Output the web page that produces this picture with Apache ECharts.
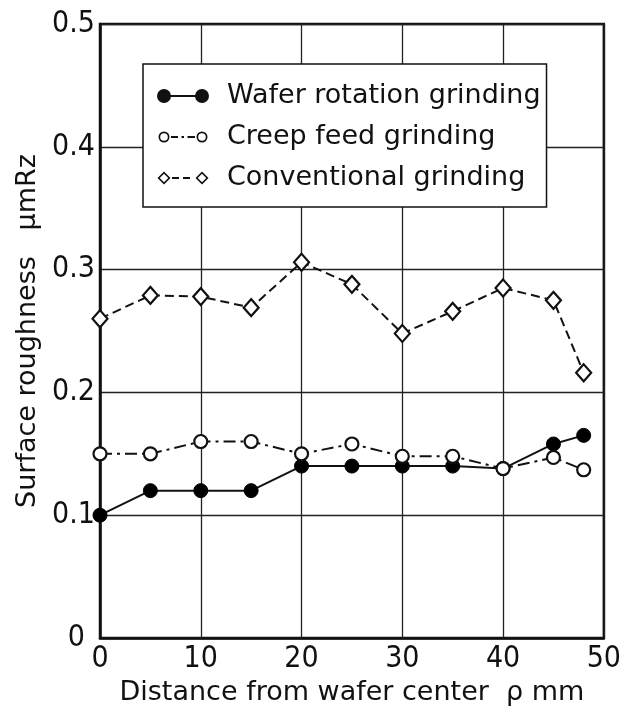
<!DOCTYPE html>
<html><head><meta charset="utf-8">
<script src="https://cdn.jsdelivr.net/npm/echarts@6/dist/echarts.min.js"></script>
<style>html,body{margin:0;padding:0;background:#fff}#c{width:624px;height:719px}</style>
</head><body><div id="c"></div>
<script>
const distances = [0, 5, 10, 15, 20, 25, 30, 35, 40, 45, 48];
const waferRotation = [0.10, 0.12, 0.12, 0.12, 0.14, 0.14, 0.14, 0.14, 0.138, 0.158, 0.165];
const creepFeed = [0.15, 0.15, 0.16, 0.16, 0.15, 0.158, 0.148, 0.148, 0.138, 0.147, 0.137];
const conventional = [0.26, 0.279, 0.278, 0.269, 0.306, 0.288, 0.248, 0.266, 0.285, 0.275, 0.216];
const seriesNames = ['Wafer rotation grinding', 'Creep feed grinding', 'Conventional grinding'];
const xTicks = [0, 10, 20, 30, 40, 50];
const yTicks = [0, 0.1, 0.2, 0.3, 0.4, 0.5];

const pair = ys => distances.map((x, i) => [x, ys[i]]);
const FONT = 'DejaVu Sans';
const NARROW = '"Liberation Sans Narrow", "DejaVu Sans Condensed", "DejaVu Sans", sans-serif';

// legend icons: marker at both ends joined by the series' line style (52 x 14 box)
const ring = (cx, r, t) =>
  `M${cx - r},7 A${r},${r} 0 1,1 ${cx + r},7 A${r},${r} 0 1,1 ${cx - r},7 Z ` +
  `M${cx - r + t},7 A${r - t},${r - t} 0 1,0 ${cx + r - t},7 A${r - t},${r - t} 0 1,0 ${cx - r + t},7 Z `;
const disc = (cx, r) => `M${cx - r},7 A${r},${r} 0 1,1 ${cx + r},7 A${r},${r} 0 1,1 ${cx - r},7 Z `;
const dia = (cx, r, t) =>
  `M${cx},${7 - r} L${cx + r},7 L${cx},${7 + r} L${cx - r},7 Z ` +
  `M${cx},${7 - r + t * 1.4} L${cx - r + t * 1.4},7 L${cx},${7 + r - t * 1.4} L${cx + r - t * 1.4},7 Z `;
const bar = (x0, x1) => `M${x0},6.1 L${x1},6.1 L${x1},7.9 L${x0},7.9 Z `;
const iconWafer = 'path://' + disc(7, 7) + bar(13, 39) + disc(45, 7);
const iconCreep = 'path://M0,0 L0.01,0 L0.01,0.01 Z M52,14 L51.99,14 L51.99,13.99 Z ' + ring(7, 5.5, 1.7) + bar(14, 21) + bar(24.5, 27) + bar(30.5, 38) + ring(45, 5.5, 1.7);
const iconConv = 'path://M0,0 L0.01,0 L0.01,0.01 Z M52,14 L51.99,14 L51.99,13.99 Z ' + dia(7, 6.5, 1.6) + bar(15, 22) + bar(26, 33) + dia(45, 6.5, 1.6);

const chart = echarts.init(document.getElementById('c'));
chart.setOption({
  animation: false,
  backgroundColor: '#fff',
  textStyle: { fontFamily: FONT, color: '#111' },
  grid: { left: 100, right: 19, top: 24, bottom: 81, show: true, borderColor: '#111', borderWidth: 2.5 },
  legend: {
    orient: 'vertical', left: 143, top: 64,
    padding: [17, 6, 14, 14], itemGap: 11, itemWidth: 52, itemHeight: 14,
    borderColor: '#111', borderWidth: 1.5, backgroundColor: '#fff',
    textStyle: { fontFamily: FONT, fontSize: 27, color: '#111', lineHeight: 30, padding: [0, 0, 0, 13] },
    data: [
      { name: seriesNames[0], icon: iconWafer, itemStyle: { color: '#111', borderWidth: 0 } },
      { name: seriesNames[1], icon: iconCreep, itemStyle: { color: '#111', borderWidth: 0 } },
      { name: seriesNames[2], icon: iconConv, itemStyle: { color: '#111', borderWidth: 0 } }
    ]
  },
  xAxis: {
    type: 'value', min: 0, max: 50, interval: 10,
    name: 'Distance from wafer center  ρ mm', nameLocation: 'middle', nameGap: 41,
    nameTextStyle: { fontSize: 27, color: '#111', fontFamily: FONT },
    axisLine: { lineStyle: { color: '#111', width: 2.5 } },
    axisTick: { show: false },
    axisLabel: { fontSize: 30, color: '#111', margin: 6, fontFamily: NARROW,
      formatter: v => xTicks.includes(v) ? String(v) : '' },
    splitLine: { show: true, lineStyle: { color: '#222', width: 1.3 } }
  },
  yAxis: {
    type: 'value', min: 0, max: 0.5, interval: 0.1,
    name: 'Surface roughness   μmRz', nameLocation: 'middle', nameGap: 57,
    nameTextStyle: { fontSize: 27, color: '#111', fontFamily: FONT },
    axisLine: { lineStyle: { color: '#111', width: 2.5 } },
    axisTick: { show: false },
    axisLabel: { fontSize: 30, color: '#111', margin: 5, fontFamily: NARROW,
      formatter: v => { const t = yTicks.find(t => Math.abs(t - v) < 1e-9); return t === undefined ? '' : (t === 0 ? '{z|0}' : t.toFixed(1)); },
      rich: { z: { fontSize: 30, fontFamily: NARROW, color: '#111', padding: [0, 10, 0, 0] } } },
    splitLine: { show: true, lineStyle: { color: '#222', width: 1.3 } }
  },
  series: [
    { name: seriesNames[0], type: 'line', data: pair(waferRotation), symbol: 'circle', symbolSize: 14,
      itemStyle: { color: '#000', borderColor: '#000' }, lineStyle: { color: '#111', width: 2 }, z: 3 },
    { name: seriesNames[1], type: 'line', data: pair(creepFeed), symbol: 'circle', symbolSize: 13,
      itemStyle: { color: '#fff', borderColor: '#111', borderWidth: 2.2 },
      lineStyle: { color: '#111', width: 2, type: [12, 5, 3, 5] }, z: 4 },
    { name: seriesNames[2], type: 'line', data: pair(conventional), symbol: 'diamond', symbolSize: [15, 17],
      itemStyle: { color: '#fff', borderColor: '#111', borderWidth: 2.2 },
      lineStyle: { color: '#111', width: 2, type: [9, 5] }, z: 4 }
  ]
});
</script></body></html>
